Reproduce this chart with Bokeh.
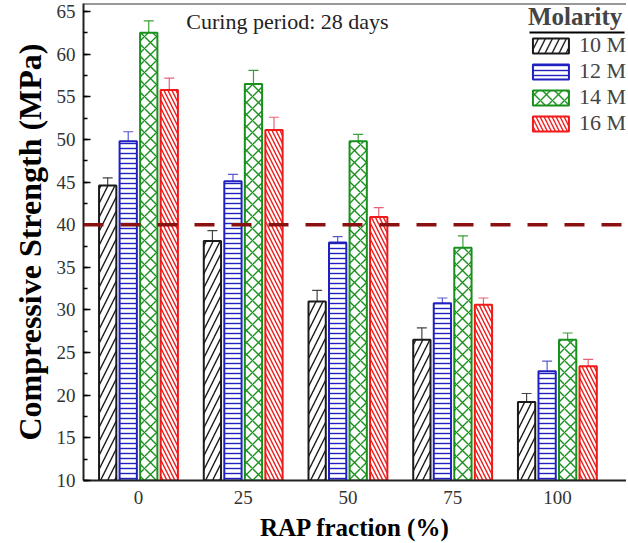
from bokeh.plotting import figure
from bokeh.models import (ColumnDataSource, Whisker, TeeHead, Span, Label,
                          FixedTicker, SingleIntervalTicker, BoxAnnotation, Range1d)
from bokeh.embed import file_html
from bokeh.resources import INLINE

# ---- data ----
rap = ["0", "25", "50", "75", "100"]
molarity = ["10 M", "12 M", "14 M", "16 M"]
s10 = [44.6, 38.1, 31.0, 26.5, 19.2]
e10 = [0.9, 1.2, 1.3, 1.4, 1.0]
s12 = [49.8, 45.1, 37.9, 30.8, 22.8]
e12 = [1.1, 0.8, 0.7, 0.6, 1.2]
s14 = [62.5, 56.5, 49.8, 37.3, 26.5]
e14 = [1.4, 1.6, 0.8, 1.4, 0.8]
s16 = [55.8, 51.1, 40.9, 30.6, 23.4]
e16 = [1.4, 1.5, 1.1, 0.8, 0.8]
threshold = 40

series = [s10, s12, s14, s16]
errors = [e10, e12, e14, e16]
colors = ["#1a1a1a", "#2020c0", "#18901c", "#f01818"]
err_colors = ["#444444", "#5a5ad0", "#3aa03a", "#e8607a"]
hatches = ["/", "-", "x", "\\"]
hscales = [14, 5, 12, 8]
offsets = [-0.294, -0.098, 0.098, 0.294]
bar_w = 0.165

SERIF = "Liberation Serif"
Y_TOP = 65.94

p = figure(width=626, height=543, x_range=Range1d(-0.525, 4.66), y_range=Range1d(10, Y_TOP),
           output_backend="svg", toolbar_location=None,
           min_border_left=83, min_border_right=0, min_border_top=3, min_border_bottom=0)
p.grid.visible = False
p.outline_line_color = None
p.background_fill_color = "white"

for vals, errs, col, ecol, h, hs, off, lab in zip(series, errors, colors, err_colors,
                                                   hatches, hscales, offsets, molarity):
    xs = [i + off for i in range(len(rap))]
    src = ColumnDataSource(dict(x=xs, top=vals, upper=[v + e for v, e in zip(vals, errs)]))
    p.vbar(x="x", top="top", bottom=10, width=bar_w, source=src,
           fill_color="white", line_color=col, line_width=2,
           hatch_pattern=h, hatch_color=col, hatch_scale=hs, hatch_weight=1.4,
           legend_label=lab)
    w = Whisker(source=src, base="x", lower="top", upper="upper", dimension="height",
                line_color=ecol, line_width=1.2,
                upper_head=TeeHead(size=10, line_color=ecol, line_width=1.2),
                lower_head=None)
    p.add_layout(w)

p.add_layout(Span(location=threshold, dimension="width", line_color="#8b1010",
                  line_width=3.5, line_dash="20 17"))
p.add_layout(Span(location=Y_TOP, dimension="width", line_color="#333333", line_width=2))

# axes
p.yaxis.ticker = SingleIntervalTicker(interval=5, num_minor_ticks=2)
p.yaxis.major_tick_in = 7
p.yaxis.major_tick_out = 0
p.yaxis.minor_tick_in = 4
p.yaxis.minor_tick_out = 0
p.yaxis.axis_label = "Compressive Strength (MPa)"
p.xaxis.ticker = FixedTicker(ticks=list(range(len(rap))))
p.xaxis.major_label_overrides = {i: r for i, r in enumerate(rap)}
p.xaxis.major_tick_in = 0
p.xaxis.major_tick_out = 0
p.xaxis.minor_tick_in = 0
p.xaxis.minor_tick_out = 0
p.xaxis.axis_label = "RAP fraction (%)"
for ax in (p.xaxis, p.yaxis):
    ax.axis_line_width = 2
    ax.axis_line_color = "#222222"
    ax.major_tick_line_width = 1.5
    ax.minor_tick_line_width = 1.5
    ax.major_label_text_font = SERIF
    ax.major_label_text_font_size = "19px"
    ax.major_label_text_color = "#333333"
    ax.axis_label_text_font = SERIF
    ax.axis_label_text_font_style = "bold"
    ax.axis_label_text_color = "black"
p.xaxis.major_tick_line_color = None
p.xaxis.minor_tick_line_color = None
p.xaxis.major_label_standoff = 10
p.xaxis.axis_label_standoff = 7
p.xaxis.axis_label_text_font_size = "25px"
p.yaxis.major_label_standoff = 8
p.yaxis.axis_label_standoff = 6
p.yaxis.axis_label_text_font_size = "32px"

# legend
lg = p.legend[0]
lg.location = "top_right"
lg.title = "Molarity"
lg.title_text_font = SERIF
lg.title_text_font_style = "bold"
lg.title_text_font_size = "25px"
lg.title_standoff = 1
lg.label_text_font = SERIF
lg.label_text_font_size = "22px"
lg.glyph_width = 45
lg.glyph_height = 19
lg.spacing = 0
lg.label_standoff = 6
lg.padding = 4
lg.margin = 0
lg.background_fill_alpha = 0
lg.border_line_color = None

# underline of the legend title (screen units, frame-relative)
p.add_layout(BoxAnnotation(left=446, right=541, top=449, bottom=447,
                           left_units="screen", right_units="screen",
                           top_units="screen", bottom_units="screen",
                           fill_color="black", fill_alpha=1, line_color=None))

p.add_layout(Label(x=204, y=459, x_units="screen", y_units="screen",
                   text="Curing period: 28 days", text_font=SERIF, text_font_size="22px",
                   text_align="center", text_baseline="middle", text_color="#222222"))

open("out.html", "w").write(file_html(p, INLINE))
